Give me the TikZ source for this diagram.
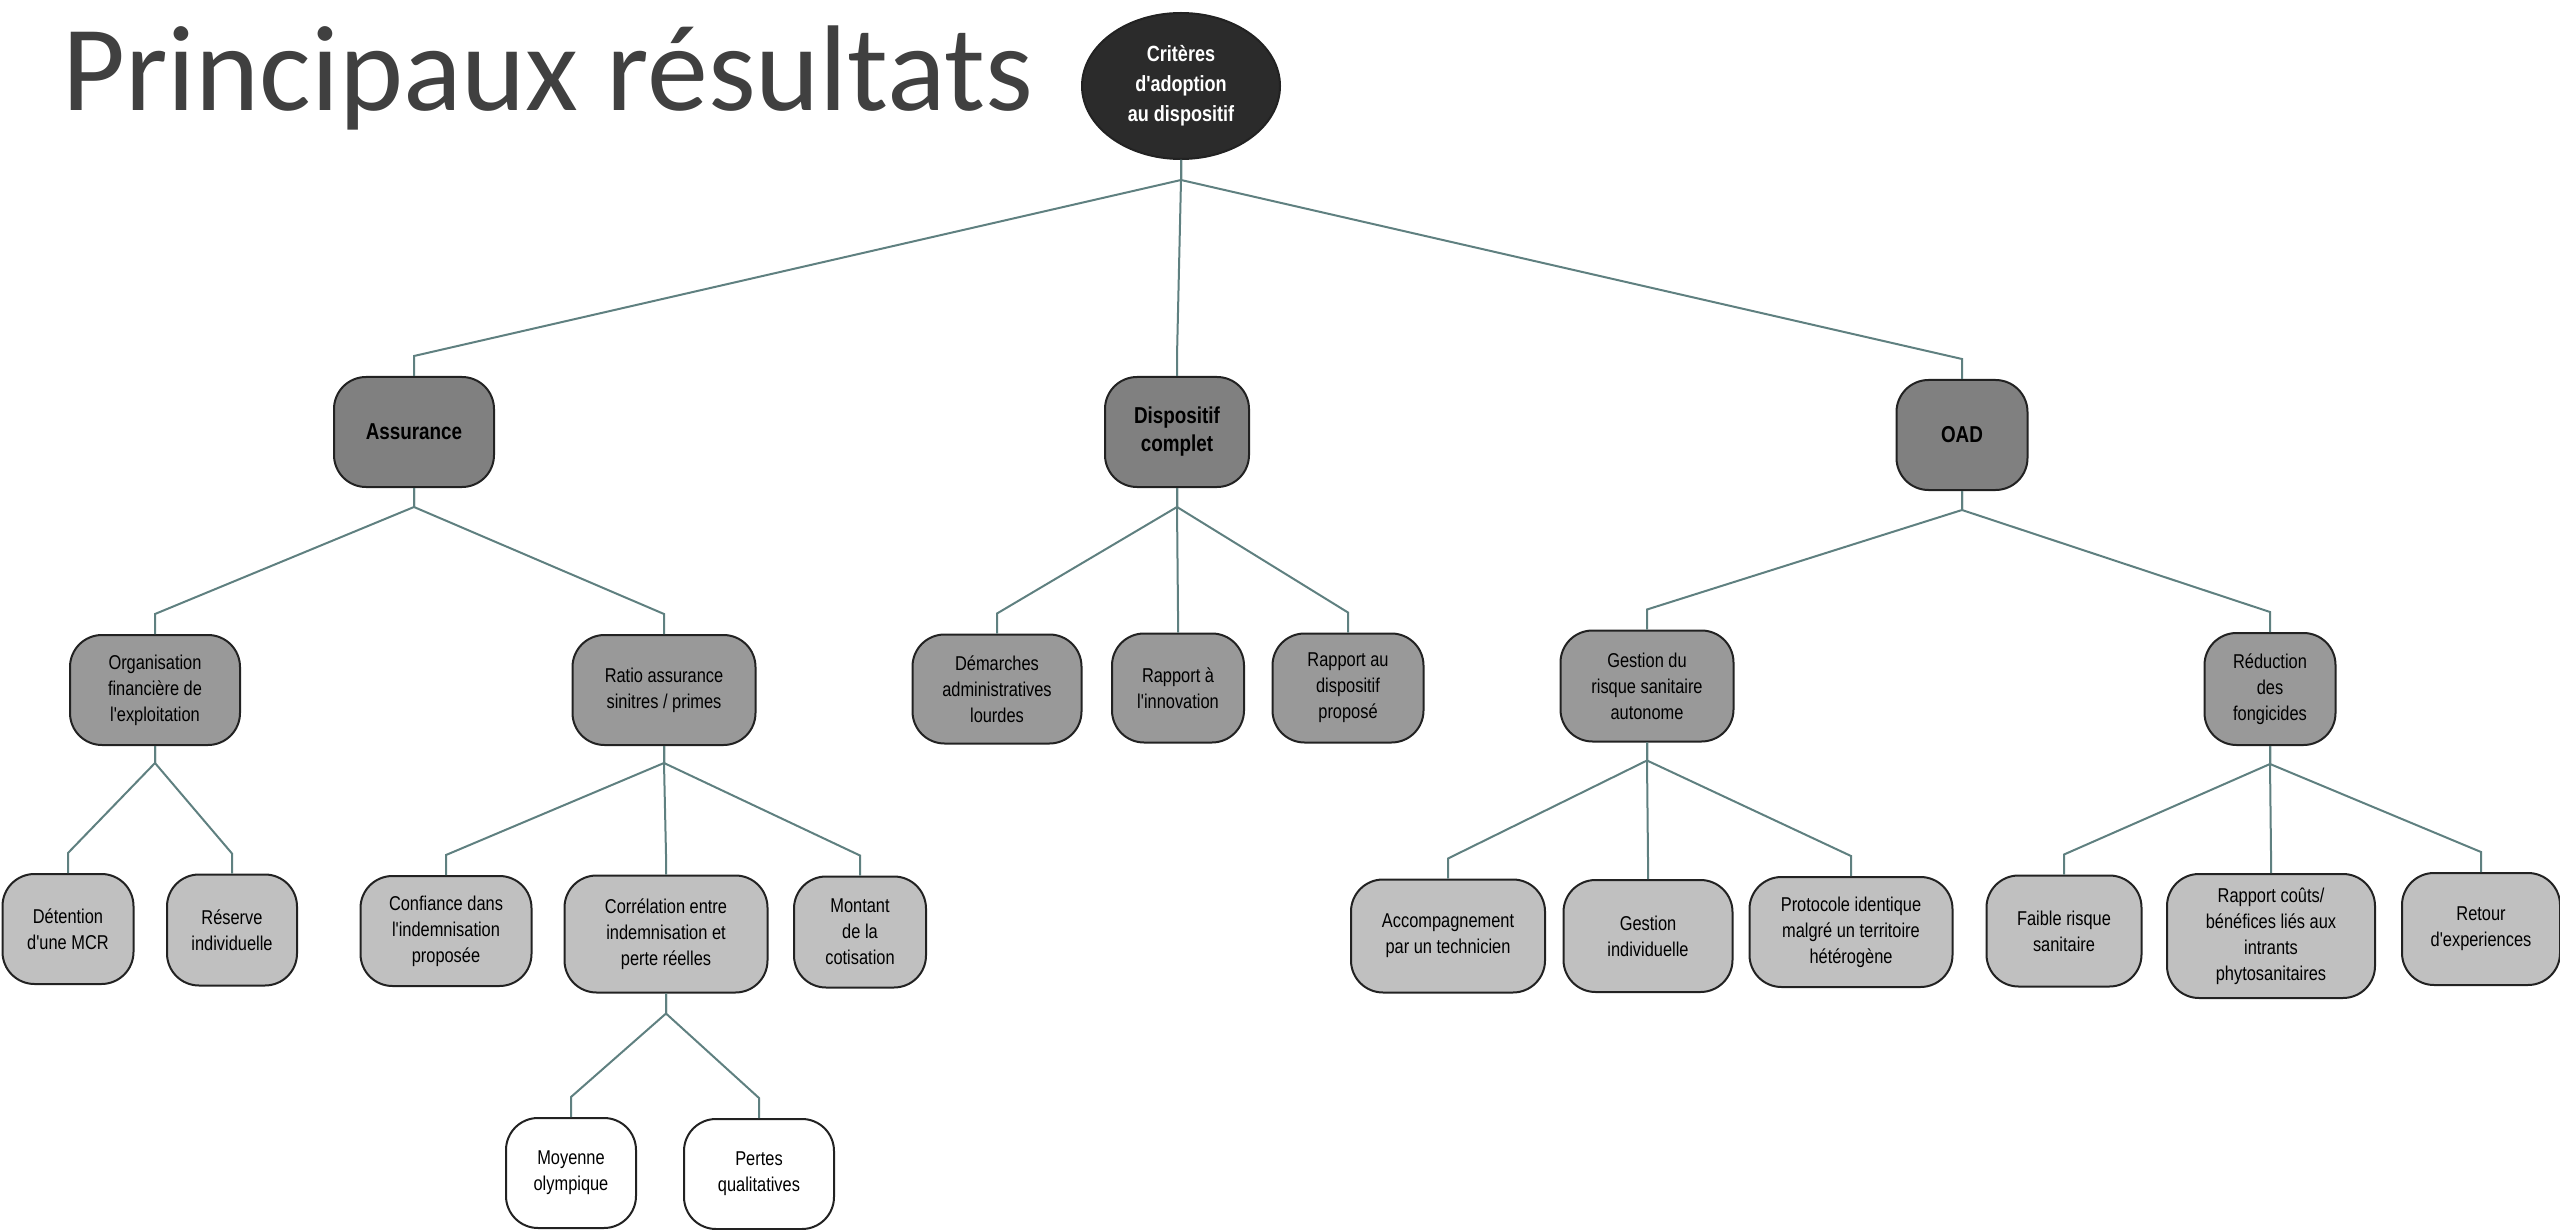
\documentclass[tikz,border=0pt]{standalone}
\usepackage{fontspec}
\usetikzlibrary{calc,shapes.geometric}
\newfontfamily\titlefont{Carlito}
\newfontfamily\narrowfont[FakeStretch=0.82]{Liberation Sans}
\definecolor{titlegray}{HTML}{404040}
\definecolor{rootfill}{HTML}{2B2B2B}
\definecolor{lvlone}{HTML}{808080}
\definecolor{lvltwo}{HTML}{999999}
\definecolor{lvlthree}{HTML}{C0C0C0}
\definecolor{bordercol}{HTML}{222222}
\definecolor{conncol}{HTML}{5F8080}
\tikzset{
  basebox/.style={draw=bordercol, line width=2pt, rounded corners=32pt, inner sep=0pt,
    align=center, text=black},
  boxone/.style={basebox, fill=lvlone, font=\narrowfont\bfseries\fontsize{23}{28}\selectfont},
  boxtwo/.style={basebox, fill=lvltwo, font=\narrowfont\fontsize{20}{26}\selectfont},
  boxthree/.style={basebox, fill=lvlthree, font=\narrowfont\fontsize{20}{26}\selectfont},
  boxfour/.style={basebox, fill=white, font=\narrowfont\fontsize{20}{26}\selectfont},
  conn/.style={draw=conncol, line width=2pt},
  sz/.style 2 args={minimum width=#1, minimum height=#2},
}
\newcommand{\linkto}[3]{% parent, child, drop
  \draw[conn] (#1.south) -- ++(0,#3) -- ($(#2.north)+(0,-20)$) -- (#2.north);}
\begin{document}
\begin{tikzpicture}[x=1pt,y=-1pt]
\useasboundingbox (0,0) rectangle (2560,1230);
% title
\node[anchor=base west, inner sep=0pt, text=titlegray, font=\titlefont\fontsize{122}{130}\selectfont] (title) at (62,111) {Principaux résultats};
% root
\node[ellipse, draw=bordercol, line width=2pt, fill=rootfill, text=white, inner sep=0pt,
  minimum width=198pt, minimum height=146pt, align=center,
  font=\narrowfont\bfseries\fontsize{22}{30}\selectfont] (root) at (1181,86)
  {Critères\\d'adoption\\au dispositif};
% level 1
\node[boxone, sz={160pt}{110pt}] (A) at (414,432) {Assurance};
\node[boxone, sz={144pt}{110pt}] (D) at (1177,432) {Dispositif\\complet};
\node[boxone, sz={131pt}{110pt}] (O) at (1962,435) {OAD};
% level 2
\node[boxtwo, sz={170pt}{110pt}] (orgf) at (155,690) {Organisation\\financière de\\l'exploitation};
\node[boxtwo, sz={183pt}{110pt}] (ratio) at (664,690) {Ratio assurance\\sinitres / primes};
\node[boxtwo, sz={169pt}{109pt}] (dem) at (997,689) {Démarches\\administratives\\lourdes};
\node[boxtwo, sz={132pt}{109pt}] (rinn) at (1178,688) {Rapport à\\l'innovation};
\node[boxtwo, sz={151pt}{109pt}] (rdisp) at (1348,688) {Rapport au\\dispositif\\proposé};
\node[boxtwo, sz={173pt}{111pt}] (gest) at (1647,686) {Gestion du\\risque sanitaire\\autonome};
\node[boxtwo, sz={131pt}{112pt}] (red) at (2270,689) {Réduction\\des\\fongicides};
% level 3
\node[boxthree, sz={131pt}{110pt}] (det) at (68,929) {Détention\\d'une MCR};
\node[boxthree, sz={130pt}{111pt}] (res) at (232,930) {Réserve\\individuelle};
\node[boxthree, sz={171pt}{110pt}] (conf) at (446,931) {Confiance dans\\l'indemnisation\\proposée};
\node[boxthree, sz={203pt}{117pt}] (corr) at (666,934) {Corrélation entre\\indemnisation et\\perte réelles};
\node[boxthree, sz={132pt}{111pt}] (mont) at (860,932) {Montant\\de la\\cotisation};
\node[boxthree, sz={194pt}{113pt}] (acc) at (1448,936) {Accompagnement\\par un technicien};
\node[boxthree, sz={169pt}{112pt}] (gind) at (1648,936) {Gestion\\individuelle};
\node[boxthree, sz={203pt}{110pt}] (prot) at (1851,932) {Protocole identique\\malgré un territoire\\hétérogène};
\node[boxthree, sz={155pt}{111pt}] (faib) at (2064,931) {Faible risque\\sanitaire};
\node[boxthree, sz={208pt}{124pt}] (rcout) at (2271,936) {Rapport coûts/\\bénéfices liés aux\\intrants\\phytosanitaires};
\node[boxthree, sz={158pt}{112pt}] (ret) at (2481,929) {Retour\\d'experiences};
% level 4
\node[boxfour, sz={130pt}{110pt}] (moy) at (571,1173) {Moyenne\\olympique};
\node[boxfour, sz={150pt}{110pt}] (pert) at (759,1174) {Pertes\\qualitatives};
% connectors
\linkto{root}{A}{20}
\linkto{root}{D}{20}
\linkto{root}{O}{20}
\linkto{A}{orgf}{19}
\linkto{A}{ratio}{19}
\linkto{D}{dem}{19}
\linkto{D}{rinn}{19}
\linkto{D}{rdisp}{19}
\linkto{O}{gest}{19}
\linkto{O}{red}{19}
\linkto{orgf}{det}{17}
\linkto{orgf}{res}{17}
\linkto{ratio}{conf}{17}
\linkto{ratio}{corr}{17}
\linkto{ratio}{mont}{17}
\linkto{gest}{acc}{18}
\linkto{gest}{gind}{18}
\linkto{gest}{prot}{18}
\linkto{red}{faib}{18}
\linkto{red}{rcout}{18}
\linkto{red}{ret}{18}
\linkto{corr}{moy}{20}
\linkto{corr}{pert}{20}
\end{tikzpicture}
\end{document}
